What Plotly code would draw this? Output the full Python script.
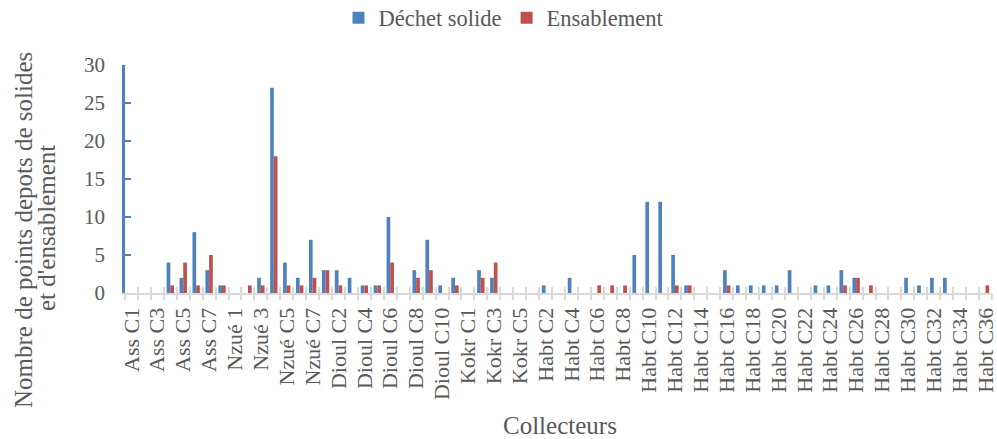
import plotly.graph_objects as go

categories = (
    ["Ass C1", "Ass C2", "Ass C3", "Ass C4", "Ass C5", "Ass C6", "Ass C7", "Ass C8",
     "Nzué 1", "Nzué 2", "Nzué 3", "Nzué C4", "Nzué C5", "Nzué C6", "Nzué C7"]
    + ["Dioul C%d" % i for i in range(1, 12)]
    + ["Kokr C%d" % i for i in range(1, 6)]
    + ["Habt C%d" % i for i in range(1, 37)]
)

dechet_solide = [0, 0, 0, 4, 2, 8, 3, 1,
                 0, 0, 2, 27, 4, 2, 7,
                 3, 3, 2, 1, 1, 10, 0, 3, 7, 1, 2,
                 0, 3, 2, 0, 0,
                 0, 1, 0, 2, 0, 0, 0, 0, 5, 12, 12, 5, 1, 0, 0, 3, 1, 1,
                 1, 1, 3, 0, 1, 1, 3, 2, 0, 0, 0, 2, 1, 2, 2, 0, 0, 0]

ensablement = [0, 0, 0, 1, 4, 1, 5, 1,
               0, 1, 1, 18, 1, 1, 2,
               3, 1, 0, 1, 1, 4, 0, 2, 3, 0, 1,
               0, 2, 4, 0, 0,
               0, 0, 0, 0, 0, 1, 1, 1, 0, 0, 0, 1, 1, 0, 0, 1, 0, 0,
               0, 0, 0, 0, 0, 0, 1, 2, 1, 0, 0, 0, 0, 0, 0, 0, 0, 1]

tick_labels = categories[::2]
y_ticks = [0, 5, 10, 15, 20, 25, 30]

FONT = "Liberation Serif"
GREY = "#595959"
BLUE = "#4F81BD"
RED = "#C0504D"
AXGREY = "#D9D9D9"

n = len(categories)
xrange = [-0.5, n - 0.5]

W, H = 997, 439
L, R, T, B = 125, 5, 65, 146
PW, PH = W - L - R, H - T - B


def px(x):
    return (x - L) / PW


def py(y):
    return 1 - (y - T) / PH


fig = go.Figure()
fig.add_trace(go.Bar(name="Déchet solide", x=categories, y=dechet_solide,
                     marker=dict(color=BLUE, line=dict(width=0))))
fig.add_trace(go.Bar(name="Ensablement", x=categories, y=ensablement,
                     marker=dict(color=RED, line=dict(width=0))))
# invisible helper traces carrying the category boundary tick marks (outside + inside)
for ax in ("x2", "x3"):
    fig.add_trace(go.Scatter(x=categories, y=[0] * n, xaxis=ax,
                             mode="markers", marker=dict(opacity=0),
                             showlegend=False, hoverinfo="skip"))

tickaxis = dict(
    type="category", overlaying="x", anchor="y", side="bottom", range=xrange,
    tickmode="linear", tick0=0, dtick=1, tickson="boundaries",
    ticklen=6, tickwidth=2, tickcolor=AXGREY,
    showticklabels=False, showgrid=False, zeroline=False, showline=False,
    automargin=False,
)

fig.update_layout(
    width=W, height=H,
    margin=dict(l=L, r=R, t=T, b=B, autoexpand=False),
    paper_bgcolor="white", plot_bgcolor="white",
    barmode="group", bargap=0.43, bargroupgap=0,
    font=dict(family=FONT, color=GREY, size=21),
    showlegend=True,
    legend=dict(orientation="h", xref="paper", yref="paper",
                x=px(504), xanchor="center", y=py(18), yanchor="middle",
                font=dict(family=FONT, size=22.5, color=GREY),
                itemwidth=30, traceorder="normal", bgcolor="rgba(0,0,0,0)"),
    xaxis=dict(
        type="category", tickmode="array", tickvals=tick_labels, ticktext=tick_labels,
        range=xrange,
        tickangle=-90, ticks="", showgrid=False, zeroline=False,
        showline=True, linecolor=AXGREY, linewidth=2,
        tickfont=dict(family=FONT, size=22, color=GREY),
        ticklabelstandoff=4,
        automargin=False,
    ),
    xaxis2=dict(tickaxis, ticks="outside"),
    xaxis3=dict(tickaxis, ticks="inside"),
    yaxis=dict(
        range=[0, 30], tickmode="array", tickvals=y_ticks,
        ticks="inside", ticklen=6, tickwidth=2, tickcolor=BLUE,
        showline=True, linecolor=BLUE, linewidth=2.5,
        showgrid=False, zeroline=False,
        tickfont=dict(family=FONT, size=21, color=GREY),
        ticklabelstandoff=13,
        automargin=False,
    ),
    annotations=[
        dict(text="Nombre de points depots de solides", textangle=-90,
             xref="paper", yref="paper", x=px(23), y=py(230),
             xanchor="center", yanchor="middle", showarrow=False,
             font=dict(family=FONT, size=25, color=GREY)),
        dict(text="et d'ensablement", textangle=-90,
             xref="paper", yref="paper", x=px(46), y=py(228),
             xanchor="center", yanchor="middle", showarrow=False,
             font=dict(family=FONT, size=25, color=GREY)),
        dict(text="Collecteurs",
             xref="paper", yref="paper", x=px(560), y=py(425),
             xanchor="center", yanchor="middle", showarrow=False,
             font=dict(family=FONT, size=25, color=GREY)),
    ],
)

fig.write_html(
    "out.html",
    config={"displayModeBar": False},
    post_script="document.body.style.margin='0px';document.body.style.overflow='hidden';",
)
